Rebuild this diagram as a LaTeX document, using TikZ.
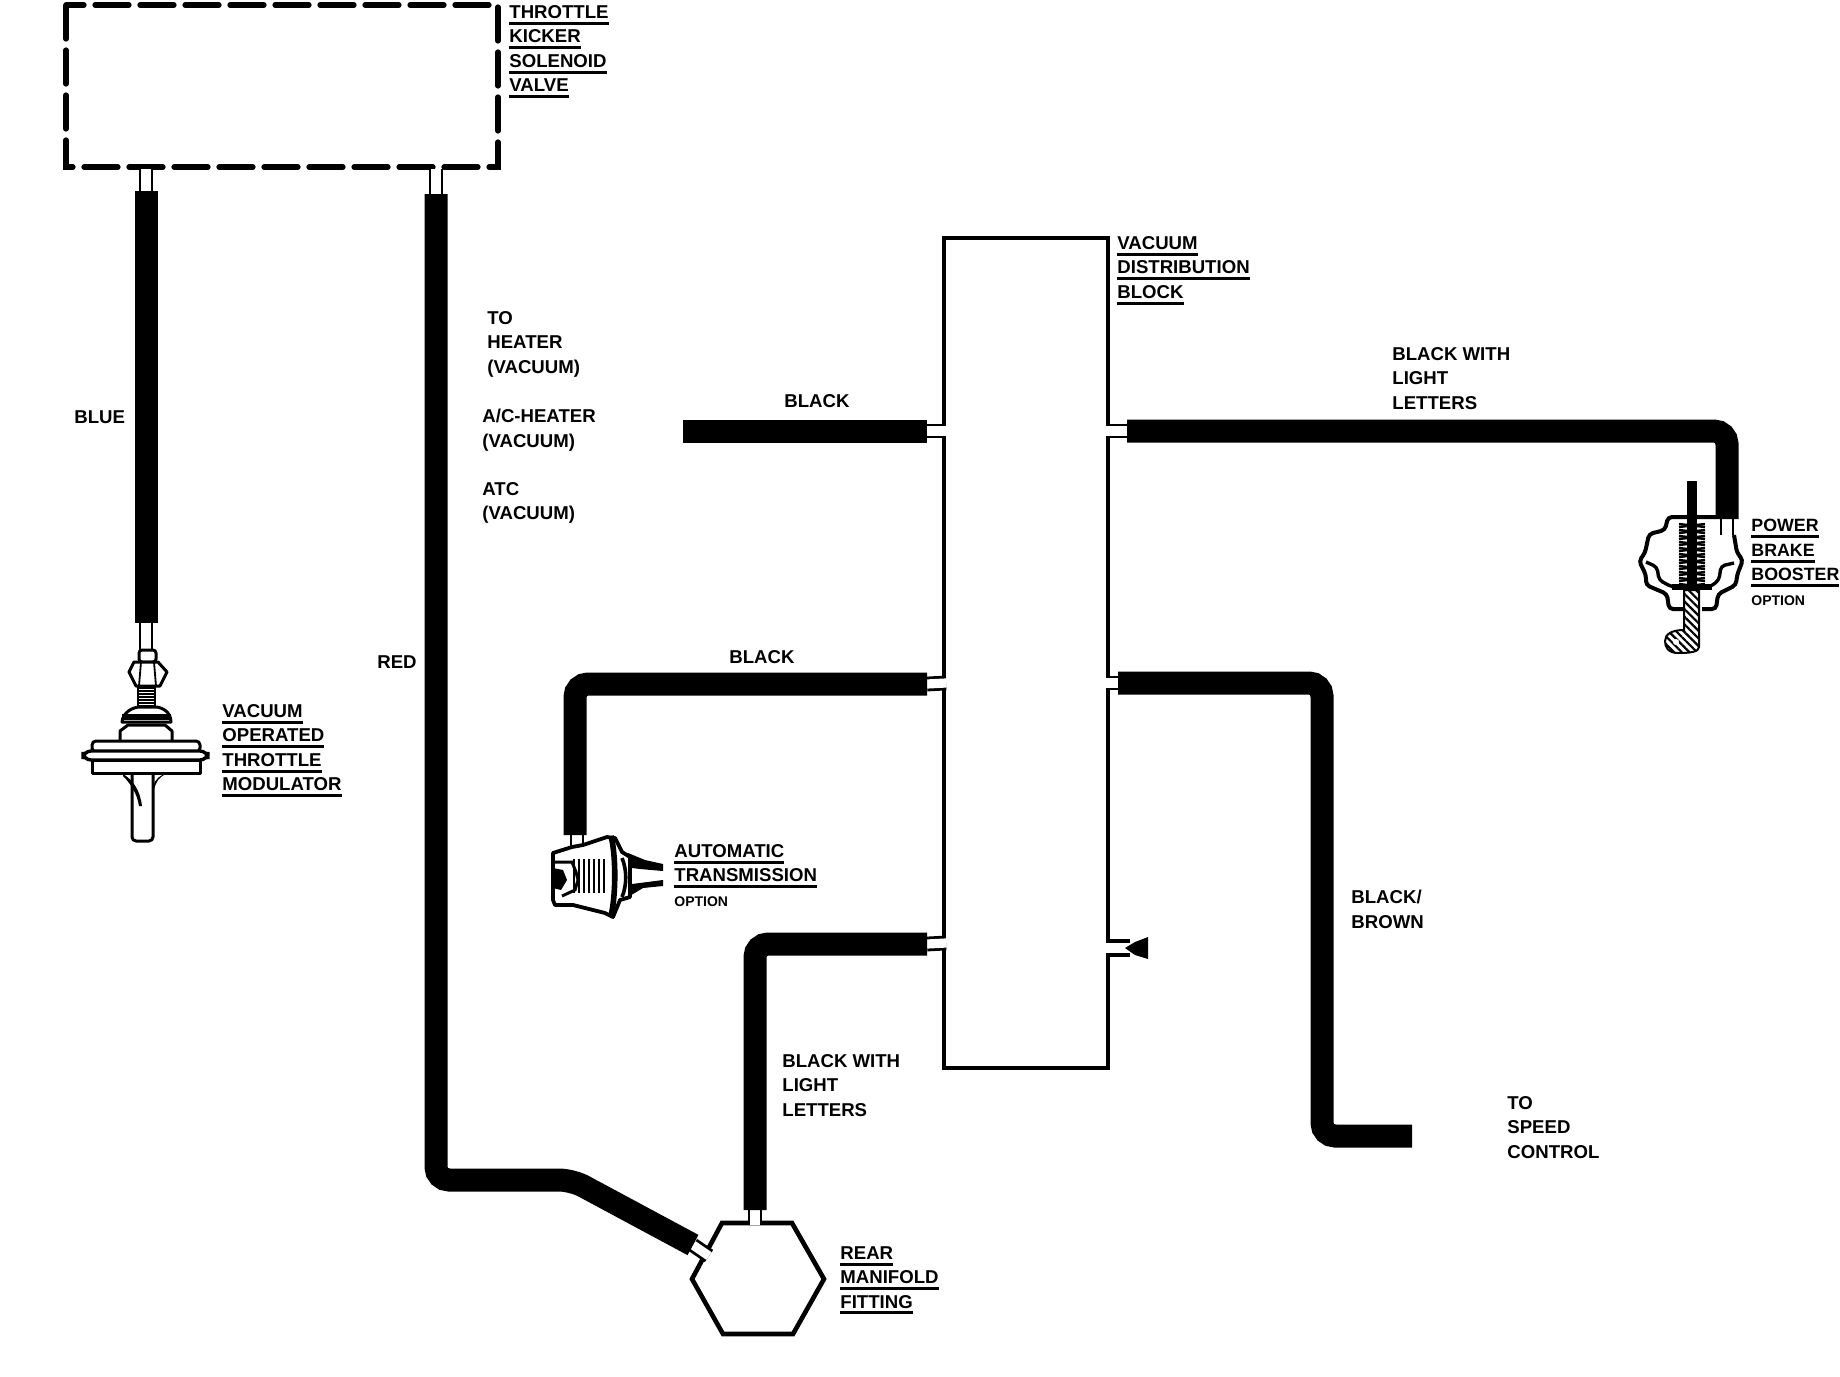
\documentclass[tikz,border=0pt]{standalone}
\usepackage{fontspec}
\setmainfont{Liberation Sans}
\usetikzlibrary{patterns.meta}
\newsavebox{\ulbox}
\newcommand{\ulbl}[1]{\sbox{\ulbox}{#1}\rlap{\rule[-3.2pt]{\wd\ulbox}{1.5pt}}\usebox{\ulbox}}
\newcommand{\smalltxt}[1]{{\fontsize{7}{9}\selectfont #1}}
\tikzset{
  lbl/.style={anchor=north west,inner sep=0pt,align=left,
    font=\fontsize{9.3}{12.2}\selectfont\bfseries},
  hose/.style={line width=11.5pt,rounded corners=6.5pt},
  stub/.style={line width=1.4pt,double=white,double distance=4.6pt},
  wall/.style={line width=2pt},
  part/.style={line width=1.5pt,fill=white,line join=round},
  thin part/.style={line width=0.9pt},
  hatched/.style={pattern={Lines[angle=-45,distance=2.7pt,line width=1.1pt]}}
}
\begin{document}
\begin{tikzpicture}[x=0.5pt,y=-0.5pt]
  \useasboundingbox (0,0) rectangle (1840,1376);

  % Solenoid box
  \draw[line width=2.6pt,line cap=round,dash pattern=on 17pt off 5.5pt]
    (66,5) rectangle (498,167);
  \coordinate (boxL) at (146,169);
  \coordinate (boxR) at (436,169);

  % Distribution block
  \draw[wall] (944,238) rectangle (1108,1068);
  \coordinate (blockLa) at (946,431);
  \coordinate (blockLb) at (946,683);
  \coordinate (blockLc) at (946,943);
  \coordinate (blockRa) at (1106,431);
  \coordinate (blockRb) at (1106,683);
  \coordinate (blockRc) at (1106,948);

  % Manifold fitting
  \draw[line width=2.3pt,line join=miter] (722,1223) -- (792,1223) -- (824,1279)
    -- (793,1334) -- (723,1334) -- (692,1279) -- cycle;
  \coordinate (hexTop) at (755,1225);
  \coordinate (hexLeft) at (709,1256);

  % Hose ends
  \coordinate (modTop) at (146,623);
  \coordinate (blueEnd) at (146,191);
  \coordinate (redEnd) at (436,194);
  \coordinate (redLow) at (693,1245);
  \coordinate (blackOpen) at (683,431);
  \coordinate (blackA) at (927,431);
  \coordinate (blackB) at (927,684);
  \coordinate (blackC) at (927,944);
  \coordinate (autoTop) at (575,835);
  \coordinate (hexHose) at (755,1210);
  \coordinate (rightA) at (1127,431);
  \coordinate (boosterTop) at (1727,519);
  \coordinate (rightB) at (1118,683);
  \coordinate (speedEnd) at (1412,1136);

  % Stubs
  \draw[stub] (boxL) -- (blueEnd);
  \draw[stub] (boxR) -- (redEnd);
  \draw[stub] (blockLa) -- (blackA);
  \draw[stub] (blockLb) -- (blackB);
  \draw[stub] (blockLc) -- (blackC);
  \draw[stub] (blockRa) -- (rightA);
  \draw[stub] (blockRb) -- (rightB);
  \draw[stub] (hexTop) -- (hexHose);
  \draw[stub] (hexLeft) -- (redLow);
  \draw[stub] (modTop) -- (146,652);
  \draw[stub] (autoTop) ++(2,0) -- ++(0,14);
  \draw[stub] (boosterTop) -- ++(0,16);
  \draw[line width=1.8pt,double=white,double distance=5.4pt] (blockRc) -- (1130,948);
  \fill (1125,948) -- (1135,942) -- (1148,937) -- (1148,959) -- (1135,955) -- cycle;

  % Hoses
  \draw[hose] (blueEnd) -- (modTop);
  \draw[hose] (redEnd) -- (436,1180) -- (572,1180) -- (redLow);
  \draw[hose] (blackOpen) -- (blackA);
  \draw[hose] (blackB) -- (575,684) -- (autoTop);
  \draw[hose] (blackC) -- (755,944) -- (hexHose);
  \draw[hose] (rightA) -- (1727,431) -- (boosterTop);
  \draw[hose] (rightB) -- (1322,683) -- (1322,1136) -- (speedEnd);

  % Throttle modulator
  \begin{scope}
    \draw[part,rounded corners=1.5pt] (139,650) rectangle (156,662);
    \draw[part] (134,662) -- (158,662) -- (167,672) -- (160,686) -- (136,686)
      -- (129,672) -- cycle;
    \draw[thin part] (141,662) -- (139,686) (154,662) -- (156,686);
    \foreach \ya in {688,691,...,706} {
      \draw[thin part] (138,\ya) -- (155,\ya);
    }
    \draw[thin part] (138,686) -- (138,707) (155,686) -- (155,707);
    \draw[part] (122,722) .. controls (123,712) and (133,707) .. (140,707) -- (155,707)
      .. controls (162,707) and (171,712) .. (171,722) -- cycle;
    \draw[line width=2.8pt] (122,717) -- (171,717);
    \draw[part] (120,741) -- (120,731) -- (128,725) -- (165,725) -- (172,731) -- (172,741);
    \draw[part,rounded corners=2pt] (92,741) rectangle (200,752);
    \draw[part] (92,760) rectangle (200,773);
    \draw[line width=1.7pt,fill=white,rounded corners=4pt] (83,751) rectangle (208,760);
    \draw[part,rounded corners=2pt] (132,775) -- (132,841) -- (153,841) -- (153,775);
    \fill (123,774) .. controls (133,780) and (140,790) .. (142,806) -- (139,806)
      .. controls (137,793) and (130,783) .. (123,776) -- cycle;
    \fill (166,774) .. controls (157,778) and (155,785) .. (153,793) -- (153,787)
      .. controls (155,779) and (160,775) .. (166,774) -- cycle;
  \end{scope}

  % Automatic transmission
  \begin{scope}
    \draw[line width=1.9pt,fill=white,line join=round] (553,853) -- (572,847) -- (583,845) -- (607,837) -- (615,838)
      -- (622,852) -- (630,857) -- (630,897) -- (620,900) -- (613,917) -- (605,913) -- (573,905)
      -- (555,905) -- (553,900) -- cycle;
    \draw[line width=2.8pt] (611,836) .. controls (616,855) and (616,895) .. (611,916);
    \draw[line width=1.8pt] (622,858) .. controls (627,870) and (627,885) .. (622,897);
    \foreach \xa in {574,579,...,604} {
      \draw[line width=1.2pt] (\xa,859) -- (\xa,893);
    }
    \draw[line width=1.5pt] (555,862) -- (572,862) -- (576,872) -- (578,880) -- (575,890)
      -- (562,896);
    \fill (553,868) -- (563,870) -- (567,880) -- (561,890) -- (553,888) -- cycle;
    \fill (628,853) -- (645,860) -- (663,864) -- (663,871) -- (640,869) -- (632,868) -- cycle;
    \fill (632,884) -- (663,880) -- (663,886) -- (643,888) -- (628,897) -- cycle;
  \end{scope}

  % Brake booster
  \begin{scope}
    \draw[line width=2pt,rounded corners=2pt] (1716,517) -- (1668,517) -- (1665,530) -- (1649,534)
      -- (1645,553) -- (1639,561) -- (1646,575) -- (1646,585) -- (1667,594) -- (1669,609) -- (1684,609);
    \draw[line width=2pt,rounded corners=2pt] (1734,535) -- (1737,553)
      -- (1743,560) -- (1737,575) -- (1736,585) -- (1718,594) -- (1716,609) -- (1702,609);
    \draw[line width=1.7pt,rounded corners=2pt] (1646,562) -- (1657,567) -- (1659,580) -- (1672,587)
      -- (1710,587) -- (1719,580) -- (1721,566) -- (1734,563);
    \foreach \ya in {524,530,...,584} {
      \draw[line width=1.2pt] (1679,\ya) -- (1705,\ya+3);
      \draw[line width=1.2pt] (1679,\ya+3) -- (1705,\ya);
    }
    \draw[line width=1pt,hatched] (1684,610) -- (1684,590) -- (1699,590) -- (1699,647)
      .. controls (1699,652) and (1690,653) .. (1678,653)
      .. controls (1668,653) and (1665,647) .. (1665,641)
      .. controls (1665,634) and (1672,630) .. (1684,630) -- cycle;
    \fill[white] (1676,642) circle[radius=3];
    \draw[line width=5pt] (1692,481) -- (1692,587);
    \draw[line width=3pt] (1672,587) -- (1712,587);
  \end{scope}

  % Labels
  \node[lbl] (lblSolenoid) at (509,5) {\ulbl{THROTTLE}\\\ulbl{KICKER}\\\ulbl{SOLENOID}\\\ulbl{VALVE}};
  \node[lbl] (lblHeater) at (487,311) {TO\\HEATER\\(VACUUM)};
  \node[lbl] (lblAc) at (482,409) {A/C-HEATER\\(VACUUM)};
  \node[lbl] (lblAtc) at (482,482) {ATC\\(VACUUM)};
  \node[lbl] (lblBlue) at (74,410) {BLUE};
  \node[lbl] (lblRed) at (377,655) {RED};
  \node[lbl] (lblBlackA) at (784,394) {BLACK};
  \node[lbl] (lblBlackB) at (729,650) {BLACK};
  \node[lbl] (lblBlock) at (1117,236) {\ulbl{VACUUM}\\\ulbl{DISTRIBUTION}\\\ulbl{BLOCK}};
  \node[lbl] (lblLightA) at (1392,347) {BLACK WITH\\LIGHT\\LETTERS};
  \node[lbl,font=\fontsize{8.9}{12.2}\selectfont\bfseries] (lblBooster) at (1751,519) {\ulbl{POWER}\\\ulbl{BRAKE}\\\ulbl{BOOSTER}\\\smalltxt{OPTION}};
  \node[lbl] (lblModulator) at (222,704) {\ulbl{VACUUM}\\\ulbl{OPERATED}\\\ulbl{THROTTLE}\\\ulbl{MODULATOR}};
  \node[lbl] (lblAuto) at (674,844) {\ulbl{AUTOMATIC}\\\ulbl{TRANSMISSION}\\\smalltxt{OPTION}};
  \node[lbl] (lblBrown) at (1351,890) {BLACK/\\BROWN};
  \node[lbl] (lblLightB) at (782,1054) {BLACK WITH\\LIGHT\\LETTERS};
  \node[lbl] (lblSpeed) at (1507,1096) {TO\\SPEED\\CONTROL};
  \node[lbl] (lblRear) at (840,1246) {\ulbl{REAR}\\\ulbl{MANIFOLD}\\\ulbl{FITTING}};
\end{tikzpicture}
\end{document}
